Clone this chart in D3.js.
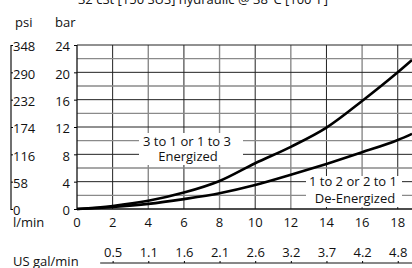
<!DOCTYPE html>
<html><head><meta charset="utf-8">
<script src="https://cdn.jsdelivr.net/npm/d3@7"></script>
<style>html,body{margin:0;padding:0;background:#fff;overflow:hidden}svg{display:block}text{font-family:"Open Sans",sans-serif;fill:#111}</style>
</head><body><svg id="c" width="412" height="268"></svg>
<script>
const flowLpm = [0, 2, 4, 6, 8, 10, 12, 14, 16, 18, 18.8];
const energized = [0, 0.45, 1.2, 2.4, 4.1, 6.7, 9.1, 11.9, 15.8, 20.0, 21.8];
const deEnergized = [0, 0.3, 0.75, 1.45, 2.3, 3.5, 5.0, 6.6, 8.3, 10.1, 11.0];
const lpmTicks = [0, 2, 4, 6, 8, 10, 12, 14, 16, 18];
const galTicks = [2, 4, 6, 8, 10, 12, 14, 16, 18];
const galLabels = ["0.5", "1.1", "1.6", "2.1", "2.6", "3.2", "3.7", "4.2", "4.8"];
const barTicks = [0, 4, 8, 12, 16, 20, 24];
const psiLabels = ["0", "58", "116", "174", "232", "290", "348"];
const gridX = [2, 4, 6, 8, 10, 12, 14, 16, 18];
const gridY = [2, 4, 6, 8, 10, 12, 14, 16, 18, 20, 22, 24];
const title = "32 cSt [150 SUS] hydraulic @ 38°C [100°F]";

const svg = d3.select("#c");
const x = d3.scaleLinear().domain([0, 18.8]).range([77, 412]);
const y = d3.scaleLinear().domain([0, 24]).range([209, 45]);
const fs = 13;

// title (cut off at top)
svg.append("text").attr("x", 203).attr("y", 4).attr("text-anchor", "middle").attr("font-size", fs).text(title);

// grid
const g = svg.append("g");
gridX.forEach(v => {
  const minor = v % 4 === 0;
  g.append("line").attr("x1", x(v)).attr("x2", x(v)).attr("y1", y(24)).attr("y2", y(0))
    .attr("stroke", minor ? "#8a8a8a" : "#222").attr("stroke-width", minor ? 1.4 : 1);
});
gridY.forEach(v => {
  const minor = v % 4 !== 0;
  g.append("line").attr("x1", x(0)).attr("x2", 412).attr("y1", y(v)).attr("y2", y(v))
    .attr("stroke", minor ? "#8a8a8a" : "#222").attr("stroke-width", minor ? 1.4 : 1);
});

// label boxes covering grid
svg.append("rect").attr("x", 139).attr("y", 133).attr("width", 104).attr("height", 32).attr("fill", "#fff");
svg.append("rect").attr("x", 306).attr("y", 176).attr("width", 96).attr("height", 31).attr("fill", "#fff");

// axes
const yAxis = d3.axisLeft(y).tickValues(barTicks).tickSize(3).tickFormat(d => d);
const ya = svg.append("g").attr("transform", `translate(${x(0)},0)`).call(yAxis);
ya.select(".domain").attr("stroke", "#111").attr("stroke-width", 1.3).attr("d", `M0,${y(24)}V${y(0)}`);
ya.selectAll("text").attr("font-size", fs).attr("font-family", '"Open Sans",sans-serif').attr("x", -7).attr("dy", "0.45em").attr("fill", "#111");

// psi axis
const psiScale = d3.scaleOrdinal().domain(barTicks).range(psiLabels);
const pa = svg.append("g").attr("transform", "translate(11,0)").call(d3.axisRight(y).tickValues(barTicks).tickSize(2).tickFormat(d => psiScale(d)));
pa.select(".domain").attr("stroke", "#111").attr("stroke-width", 1.2).attr("d", `M0,${y(24)}V${y(0) + 1}`);
pa.selectAll("text").attr("font-size", fs).attr("font-family", '"Open Sans",sans-serif').attr("x", 2).attr("dy", "0.45em").attr("text-anchor", "start").attr("fill", "#111");

// bottom axis line
svg.append("line").attr("x1", x(0)).attr("x2", 412).attr("y1", y(0)).attr("y2", y(0)).attr("stroke", "#111").attr("stroke-width", 1.3);
svg.selectAll(".xl").data(lpmTicks).enter().append("text").attr("class", "xl")
  .attr("x", d => x(d)).attr("y", 227).attr("text-anchor", "middle").attr("font-size", fs).text(d => d);

// gal axis
const ga = svg.append("g").attr("transform", "translate(0,263)")
  .call(d3.axisTop(x).tickValues(galTicks).tickSize(2).tickFormat((d, i) => galLabels[i]));
ga.select(".domain").attr("stroke", "#111").attr("d", `M${x(1.3)},0H412`);
ga.selectAll("text").attr("font-size", fs).attr("font-family", '"Open Sans",sans-serif').attr("y", -6).attr("fill", "#111");

svg.append("text").attr("x", 15).attr("y", 27).attr("font-size", fs).text("psi");
svg.append("text").attr("x", 55).attr("y", 27).attr("font-size", fs).text("bar");
svg.append("text").attr("x", 13).attr("y", 227).attr("font-size", fs).text("l/min");
svg.append("text").attr("x", 13).attr("y", 266).attr("font-size", fs).text("US gal/min");

// curves
const line = d3.line().curve(d3.curveMonotoneX);
[energized, deEnergized].forEach(s => {
  svg.append("path").attr("d", line(flowLpm.map((f, i) => [x(f), y(s[i])])))
    .attr("fill", "none").attr("stroke", "#000").attr("stroke-width", 2.6);
});

// annotations
svg.append("text").attr("x", 187).attr("y", 146).attr("text-anchor", "middle").attr("font-size", fs).text("3 to 1 or 1 to 3");
svg.append("text").attr("x", 188).attr("y", 161).attr("text-anchor", "middle").attr("font-size", fs).text("Energized");
svg.append("text").attr("x", 353).attr("y", 186).attr("text-anchor", "middle").attr("font-size", fs).text("1 to 2 or 2 to 1");
svg.append("text").attr("x", 355).attr("y", 203).attr("text-anchor", "middle").attr("font-size", fs).text("De-Energized");
</script></body></html>
